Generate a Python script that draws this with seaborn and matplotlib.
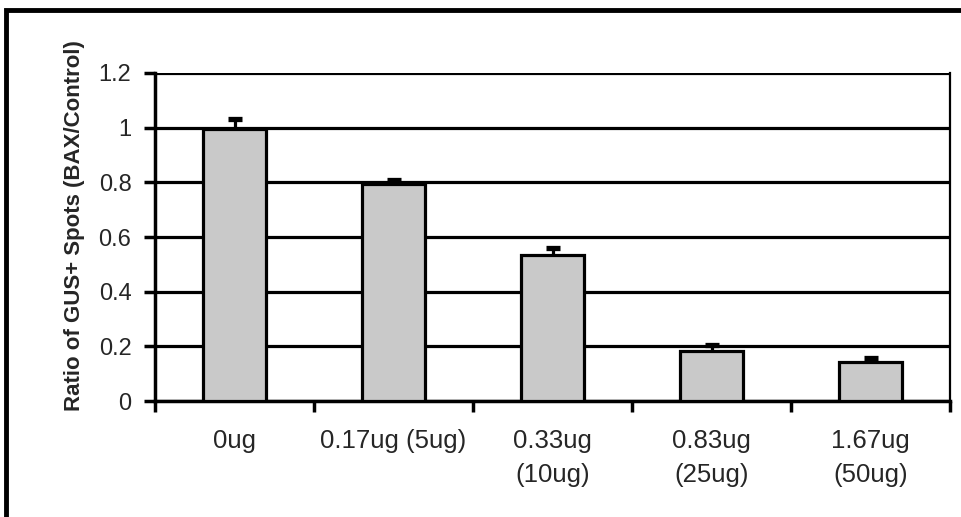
import matplotlib
matplotlib.use("Agg")
import matplotlib.pyplot as plt
import seaborn as sns
import numpy as np
import pandas as pd
from matplotlib.patches import Rectangle

categories = ["0ug", "0.17ug (5ug)", "0.33ug\n(10ug)", "0.83ug\n(25ug)", "1.67ug\n(50ug)"]
values = [0.995, 0.795, 0.533, 0.182, 0.142]
errors = [0.035, 0.012, 0.026, 0.022, 0.015]
yticks = [0, 0.2, 0.4, 0.6, 0.8, 1.0, 1.2]
ytick_labels = ["0", "0.2", "0.4", "0.6", "0.8", "1", "1.2"]
ylabel = "Ratio of GUS+ Spots (BAX/Control)"

sns.set_theme(style="white")
plt.rcParams["font.family"] = ["Liberation Sans", "DejaVu Sans"]

df = pd.DataFrame({"cat": categories, "val": values})

fig = plt.figure(figsize=(9.62, 5.17), dpi=100)
ax = fig.add_axes([155 / 962, 1 - 401 / 517, (950 - 155) / 962, (401 - 73) / 517])

sns.barplot(data=df, x="cat", y="val", color="#c9c9c9", saturation=1,
            edgecolor="black", linewidth=2.3, width=0.4, errorbar=None, ax=ax, zorder=3)

xpos = np.arange(len(categories))
eb = ax.errorbar(xpos, values, yerr=[np.zeros(len(values)), errors], fmt="none",
                 ecolor="black", elinewidth=2.3, capsize=5, capthick=3.8, zorder=4)
# only the upper caps, as in the reference
caplines = eb[1]
if len(caplines) == 2:
    caplines[0].set_visible(False)
for cl in caplines:
    cl.set_solid_capstyle("round")

ax.set_xlim(-0.5, len(categories) - 0.5)
ax.set_ylim(0, 1.2)
ax.set_yticks(yticks)
ax.set_yticklabels(ytick_labels, fontsize=17)
ax.yaxis.grid(True, color="black", linewidth=2.3)
ax.xaxis.grid(False)
ax.set_axisbelow(True)

# x labels at category centers, ticks at boundaries
ax.set_xticks(xpos)
ax.set_xticklabels(categories, fontsize=18.5, linespacing=1.55)
ax.set_xticks(np.arange(-0.5, len(categories), 1.0), minor=True)
ax.tick_params(axis="x", which="major", length=0, pad=20)
ax.tick_params(axis="x", which="minor", length=8, width=2.5, color="black", direction="out", bottom=True)
ax.tick_params(axis="y", which="major", length=8, width=2.5, color="black", direction="out", left=True, pad=9)

ax.set_xlabel("")
ax.set_ylabel(ylabel, fontsize=16, fontweight="bold")
ax.yaxis.set_label_coords(-0.088, 0.535)

for side in ["left", "bottom"]:
    ax.spines[side].set_visible(True)
    ax.spines[side].set_color("black")
    ax.spines[side].set_linewidth(2.5)
ax.spines["top"].set_visible(False)
ax.spines["right"].set_visible(True)
ax.spines["right"].set_color("black")
ax.spines["right"].set_linewidth(1.6)

# outer frame
fig.add_artist(Rectangle((6 / 962, -0.2), 1.2, 1.2 - 10 / 517,
                         transform=fig.transFigure, fill=False,
                         edgecolor="black", linewidth=3.5, clip_on=False))

fig.savefig("out.png", dpi=100, facecolor="white")
